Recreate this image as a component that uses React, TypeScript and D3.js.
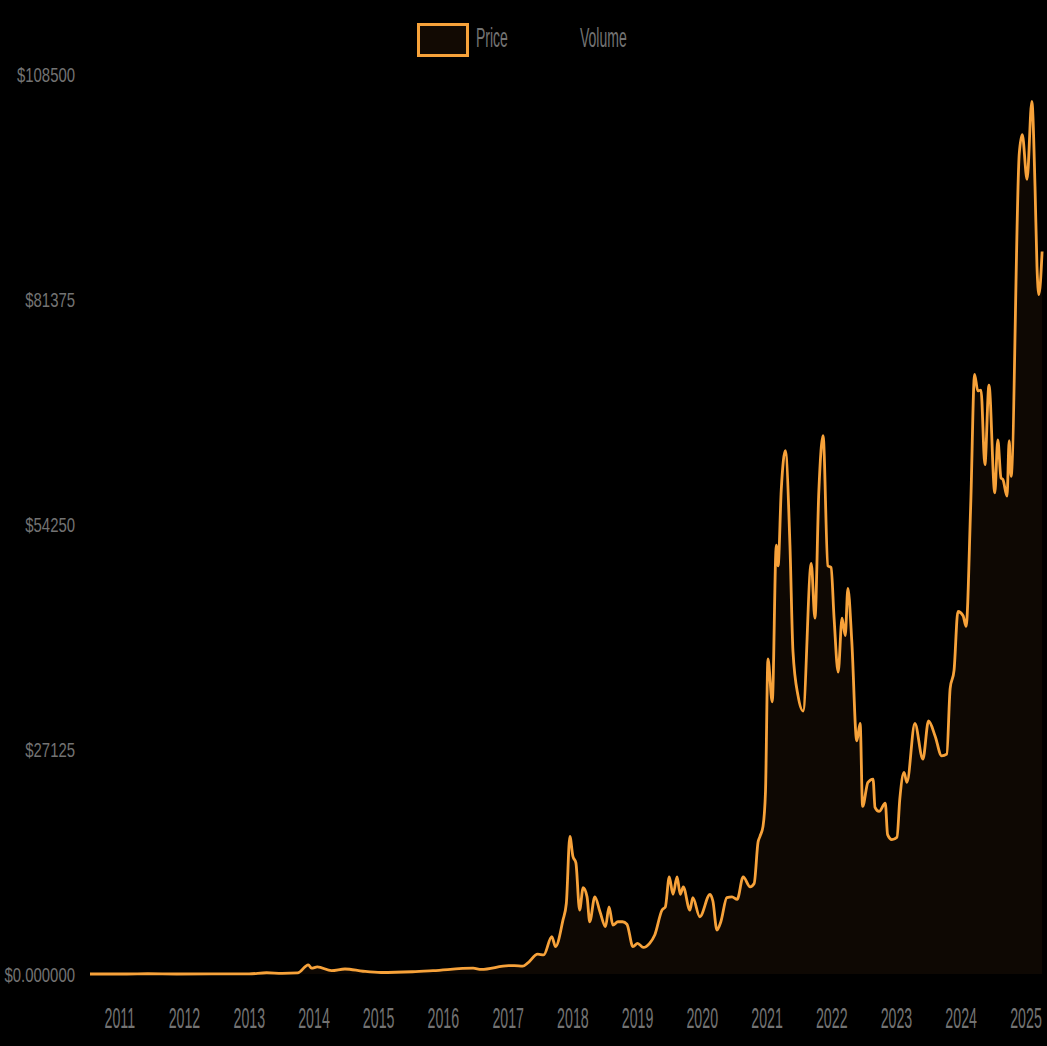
import React, { useEffect, useRef } from 'react';
import * as d3 from 'd3';

// Price series (USD)
const priceDates = [
  '2010-07-17', '2010-11-06', '2011-02-10', '2011-06-08', '2011-11-18', '2012-06-01',
  '2012-12-31', '2013-04-09', '2013-07-05', '2013-10-01', '2013-11-30', '2013-12-18',
  '2014-01-20', '2014-04-10', '2014-06-25', '2014-10-05', '2015-01-14', '2015-07-10',
  '2015-11-04', '2016-06-17', '2016-08-02', '2017-01-04', '2017-02-05', '2017-03-24',
  '2017-04-20', '2017-06-17', '2017-07-20', '2017-09-04', '2017-09-25', '2017-11-06',
  '2017-11-25', '2017-12-15', '2018-01-01', '2018-01-18', '2018-02-08', '2018-02-28',
  '2018-03-22', '2018-04-06', '2018-05-05', '2018-06-03', '2018-07-04', '2018-07-24',
  '2018-08-15', '2018-09-12', '2018-10-08', '2018-11-02', '2018-12-06', '2019-01-01',
  '2019-02-03', '2019-03-10', '2019-04-08', '2019-05-19', '2019-06-07', '2019-06-29',
  '2019-07-20', '2019-08-12', '2019-08-30', '2019-09-16', '2019-10-23', '2019-11-09',
  '2019-12-18', '2020-02-14', '2020-03-01', '2020-03-24', '2020-04-15', '2020-05-19',
  '2020-06-17', '2020-07-16', '2020-08-19', '2020-09-27', '2020-10-20', '2020-11-11',
  '2020-11-22', '2020-12-09', '2020-12-23', '2021-01-06', '2021-01-30', '2021-02-22',
  '2021-03-04', '2021-03-22', '2021-04-14', '2021-05-10', '2021-05-27', '2021-06-25',
  '2021-07-23', '2021-09-07', '2021-09-28', '2021-10-20', '2021-11-13', '2021-12-10',
  '2021-12-28', '2022-01-14', '2022-02-06', '2022-02-28', '2022-03-18', '2022-04-02',
  '2022-04-24', '2022-05-22', '2022-06-10', '2022-06-24', '2022-07-24', '2022-08-22',
  '2022-09-02', '2022-09-25', '2022-10-30', '2022-11-12', '2022-12-06', '2023-01-04',
  '2023-01-20', '2023-02-13', '2023-03-01', '2023-04-15', '2023-05-30', '2023-07-01',
  '2023-08-07', '2023-09-13', '2023-10-12', '2023-10-31', '2023-11-22', '2023-12-14',
  '2024-01-12', '2024-01-29', '2024-02-24', '2024-03-17', '2024-04-04', '2024-04-22',
  '2024-05-14', '2024-06-06', '2024-07-09', '2024-07-26', '2024-08-13', '2024-08-24',
  '2024-09-16', '2024-09-28', '2024-10-09', '2024-11-24', '2024-12-11', '2025-01-07',
  '2025-02-03', '2025-02-21', '2025-03-04', '2025-03-15', '2025-04-02',
];

const priceValues = [
  0.05, 0.4, 1, 30, 2.2, 5.3,
  13.5, 150, 70, 125, 1100, 700,
  850, 400, 600, 330, 180, 270,
  400, 700, 560, 1000, 1000, 950,
  1300, 2400, 2300, 4500, 3300, 6500,
  8500, 16600, 14200, 13400, 7700, 10400,
  9300, 6300, 9300, 7500, 5700, 8100,
  5900, 6300, 6300, 6000, 3300, 3700,
  3200, 3700, 4700, 7700, 8100, 11700,
  9600, 11700, 9600, 10500, 7700, 9200,
  6900, 9600, 8800, 5300, 6300, 9200,
  9300, 9000, 11700, 10500, 10900, 15900,
  16600, 17800, 22000, 38000, 32800, 51700,
  49200, 58400, 63100, 51700, 38900, 33500,
  31700, 49500, 42900, 58200, 64900, 49200,
  49000, 42900, 36400, 42900, 40800, 46500,
  40100, 28100, 30200, 20200, 23100, 23500,
  20100, 19600, 20600, 16800, 16200, 16500,
  21100, 24300, 23100, 30200, 25900, 30500,
  28700, 26300, 26500, 34400, 36600, 43700,
  43200, 41900, 56500, 72300, 70300, 70400,
  61400, 71000, 58000, 64400, 59800, 59600,
  57600, 64300, 60000, 98900, 101200, 95800,
  105200, 94900, 85300, 81900, 87100,
];

const domainStart = '2010-07-17';
const domainEnd = '2025-04-07';

const yTickValues = [0, 27125, 54250, 81375, 108500];
const yTickLabels = ['$0.000000', '$27125', '$54250', '$81375', '$108500'];
const xTickYears = [2011, 2012, 2013, 2014, 2015, 2016, 2017, 2018, 2019, 2020, 2021, 2022, 2023, 2024, 2025];
const legendLabels = ['Price', 'Volume'];

interface PricePoint {
  date: Date;
  value: number;
}

const WIDTH = 1047;
const HEIGHT = 1046;

export default function App() {
  const svgRef = useRef<SVGSVGElement>(null);

  useEffect(() => {
    const svgElement = svgRef.current;
    if (!svgElement) return;

    const svg = d3.select(svgElement);
    svg.selectAll('*').remove();

    const parse = d3.utcParse('%Y-%m-%d');
    const data: PricePoint[] = priceDates.map((d, i) => ({
      date: parse(d) as Date,
      value: priceValues[i],
    }));

    const plot = { left: 90, right: 1043, top: 74, bottom: 974 };

    const xScale = d3
      .scaleUtc()
      .domain([parse(domainStart) as Date, parse(domainEnd) as Date])
      .range([plot.left, plot.right]);

    const yScale = d3
      .scaleLinear()
      .domain([0, 108500])
      .range([plot.bottom, plot.top]);

    const fontFamily = '"Liberation Sans", Arial, sans-serif';
    const textColor = '#737373';
    const orange = '#f7a23a';

    // background
    svg.append('rect')
      .attr('width', WIDTH)
      .attr('height', HEIGHT)
      .attr('fill', '#000');

    // area under the line
    const area = d3
      .area<PricePoint>()
      .x(d => xScale(d.date))
      .y0(yScale(0))
      .y1(d => yScale(d.value))
      .curve(d3.curveMonotoneX);

    svg.append('path')
      .datum(data)
      .attr('fill', '#0e0803')
      .attr('d', area);

    const line = d3
      .line<PricePoint>()
      .x(d => xScale(d.date))
      .y(d => yScale(d.value))
      .curve(d3.curveMonotoneX);

    svg.append('path')
      .datum(data)
      .attr('fill', 'none')
      .attr('stroke', orange)
      .attr('stroke-width', 2.8)
      .attr('stroke-linejoin', 'round')
      .attr('d', line);

    // y axis labels (squeezed horizontally like the reference)
    svg.append('g')
      .selectAll('text')
      .data(yTickValues)
      .enter()
      .append('text')
      .attr('transform', d => `translate(75, ${yScale(d) + 7.5}) scale(0.71, 1)`)
      .attr('text-anchor', 'end')
      .style('font-family', fontFamily)
      .style('font-size', '21px')
      .style('fill', textColor)
      .text((_, i) => yTickLabels[i]);

    // x axis labels
    svg.append('g')
      .selectAll('text')
      .data(xTickYears)
      .enter()
      .append('text')
      .attr('transform', d => `translate(${xScale(Date.UTC(d, 0, 1))}, 1028) scale(0.49, 1)`)
      .attr('text-anchor', 'middle')
      .style('font-family', fontFamily)
      .style('font-size', '29px')
      .style('fill', textColor)
      .text(d => String(d));

    // legend
    const legend = svg.append('g');
    legend.append('rect')
      .attr('x', 418.5)
      .attr('y', 24.5)
      .attr('width', 49)
      .attr('height', 31)
      .attr('fill', '#120a03')
      .attr('stroke', orange)
      .attr('stroke-width', 3);

    const legendX = [476, 580];
    legendLabels.forEach((label, i) => {
      legend.append('text')
        .attr('transform', `translate(${legendX[i]}, 47) scale(0.5, 1)`)
        .style('font-family', fontFamily)
        .style('font-size', '28px')
        .style('fill', textColor)
        .text(label);
    });

    return () => {
      svg.selectAll('*').remove();
    };
  }, []);

  return (
    <svg
      ref={svgRef}
      width={WIDTH}
      height={HEIGHT}
      style={{ position: 'absolute', left: 0, top: 0, display: 'block' }}
    />
  );
}
